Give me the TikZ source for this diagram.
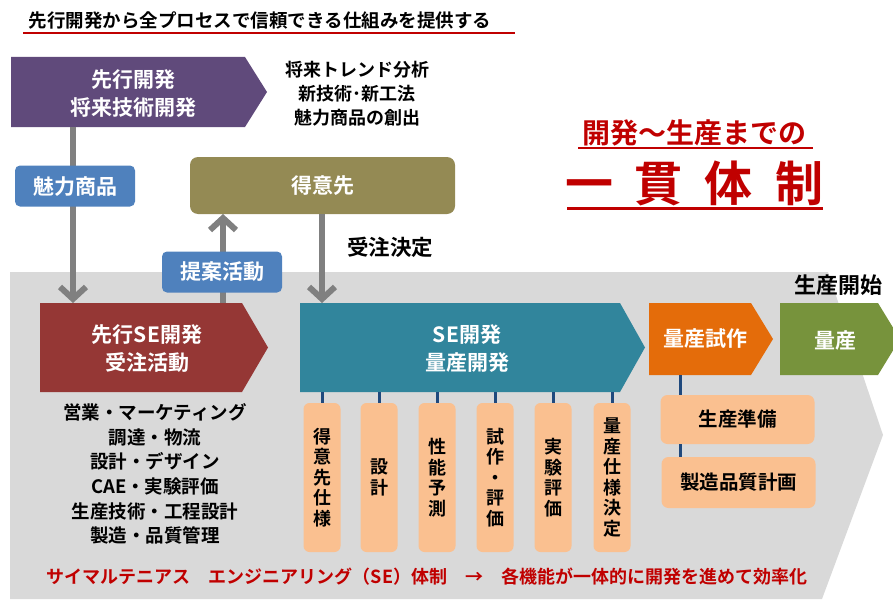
\documentclass[tikz,border=0pt]{standalone}
\usepackage{fontspec}
\setmainfont{Noto Sans CJK JP}[UprightFont=* Bold]
\usetikzlibrary{arrows.meta}
\definecolor{bggray}{HTML}{D9D9D9}
\definecolor{arrgray}{HTML}{808080}
\definecolor{purp}{HTML}{604A7B}
\definecolor{olive}{HTML}{948A54}
\definecolor{lblue}{HTML}{4F81BD}
\definecolor{brick}{HTML}{953735}
\definecolor{teal2}{HTML}{31859C}
\definecolor{orng}{HTML}{E46C0A}
\definecolor{grn}{HTML}{77933C}
\definecolor{peach}{HTML}{FAC090}
\definecolor{navy2}{HTML}{1F497D}
\definecolor{dred}{HTML}{C00000}
\newcommand\fs[2]{\fontsize{#1}{#2}\selectfont}
\begin{document}
\begin{tikzpicture}[x=1pt,y=-1pt,
  wlabel/.style={text=white, font=\fs{21}{28}, align=center, inner sep=0pt},
  blabel/.style={text=black, font=\fs{18}{24}, align=center, inner sep=0pt},
  area/.style={inner sep=0pt, outer sep=0pt},
  tagbox/.style={fill=lblue, rounded corners=5pt, minimum width=120pt, minimum height=41pt, text=white, font=\fs{21}{28}, inner sep=0pt},
  garrow/.style={draw=arrgray, line width=6pt, -{Straight Barb[length=12pt,width=26pt]}},
  conn/.style={draw=navy2, line width=3pt},
  vbox/.style={fill=peach, rounded corners=6pt, minimum width=37pt, minimum height=149pt, inner sep=0pt, align=center, font=\fs{18}{20.5}},
  hbox/.style={fill=peach, rounded corners=7pt, minimum width=154pt, inner sep=0pt, font=\fs{19.5}{24}},
  redtext/.style={text=dred, inner sep=0pt},
]
\useasboundingbox (0,0) rectangle (893,599);

% title
\node[font=\fs{18.5}{22}, inner sep=0pt] (title) at (260,20) {先行開発から全プロセスで信頼できる仕組みを提供する};
\draw[dred, line width=2pt] (23,33) -- (515,33);

% background arrow
\fill[bggray] (10,272) -- (828,272) -- (883,435) -- (822,599) -- (10,599) -- cycle;

% process shapes
\fill[purp] (11,57) -- (245,57) -- (267,92) -- (245,127) -- (11,127) -- cycle;
\fill[brick] (40,303) -- (242,303) -- (268,347.5) -- (242,392) -- (40,392) -- cycle;
\fill[teal2] (300,303) -- (620,303) -- (645,347.5) -- (620,392) -- (300,392) -- cycle;
\fill[orng] (649,303) -- (751,303) -- (773,339) -- (751,375) -- (649,375) -- cycle;
\fill[grn] (780,303) -- (878,303) -- (900,339) -- (878,375) -- (780,375) -- cycle;

\node[area, minimum width=234pt, minimum height=70pt] (pre) at (128,92) {};
\node[area, minimum width=202pt, minimum height=89pt] (sepre) at (141,347.5) {};
\node[area, minimum width=320pt, minimum height=89pt] (se) at (460,347.5) {};
\node[area, minimum width=102pt, minimum height=72pt] (trial) at (700,339) {};
\node[area, minimum width=98pt, minimum height=72pt] (mass) at (829,339) {};

\node[wlabel] (preT) at (133,94) {先行開発\\将来技術開発};
\node[wlabel] (sepreT) at (147,349) {先行SE開発\\受注活動};
\node[wlabel] (seT) at (467,349) {SE開発\\量産開発};
\node[wlabel] (trialT) at (705,339) {量産試作};
\node[wlabel] (massT) at (835,340) {量産};

% customer
\node[area, wlabel, fill=olive, rounded corners=8pt, minimum width=265pt, minimum height=57pt] (client) at (322.5,185.5) {得意先};

% gray arrows
\draw[garrow] ([xshift=62pt]pre.south west) -- ([xshift=33pt]sepre.north west);
\draw[garrow] ([xshift=183pt]sepre.north west) -- ([xshift=33pt]client.south west);
\draw[garrow] ([xshift=132pt]client.south west) -- ([xshift=22pt]se.north west);

% tags
\node[tagbox] (attract) at (75,186) {魅力商品};
\node[tagbox] (propose) at (222,272) {提案活動};

\node[blabel, font=\fs{21.5}{24}] (order) at (390,247) {受注決定};
\node[blabel, font=\fs{22}{24}] (start) at (838,285) {生産開始};
\node[blabel] (goals) at (357,94) {将来トレンド分析\\新技術･新工法\\魅力商品の創出};
\node[blabel, font=\fs{18.5}{24.6}] (funcs) at (155,474) {営業・マーケティング\\調達・物流\\設計・デザイン\\CAE・実験評価\\生産技術・工程設計\\製造・品質管理};

% vertical task boxes
\node[vbox] (p1) at (322,477.5) {得\\意\\先\\仕\\様};
\node[vbox] (p2) at (379,477.5) {設\\計};
\node[vbox] (p3) at (437,477.5) {性\\能\\予\\測};
\node[vbox] (p4) at (495,477.5) {試\\作\\・\\評\\価};
\node[vbox] (p5) at (553,477.5) {実\\験\\評\\価};
\node[vbox] (p6) at (612,477.5) {量\\産\\仕\\様\\決\\定};
\foreach \p in {p1,p2,p3,p4,p5,p6}
  \draw[conn] (se.south -| \p.north) -- (\p.north);

% production prep boxes
\node[hbox, minimum height=49pt] (prep) at (737.5,419.5) {生産準備};
\node[hbox, minimum height=51pt] (qual) at (738.5,482.5) {製造品質計画};
\coordinate (oc) at ([xshift=31pt]trial.south west);
\draw[conn] (oc) -- (oc |- prep.north);
\draw[conn] (oc |- prep.south) -- (oc |- qual.north);

% headline
\node[redtext, font=\fs{28}{30}] (head1) at (694,133) {開発～生産までの};
\draw[dred, line width=2pt] (578,148) -- (813,148);
\node[redtext, font=\fs{48}{50}] (head2) at (694,183) {一\hspace{22pt}貫\hspace{22pt}体\hspace{22pt}制};
\draw[dred, line width=3pt] (567,208) -- (823,208);

% summary
\node[redtext, font=\fs{18}{22}] (summary) at (427,577) {サイマルテニアス　エンジニアリング（SE）体制　→　各機能が一体的に開発を進めて効率化};
\end{tikzpicture}
\end{document}
